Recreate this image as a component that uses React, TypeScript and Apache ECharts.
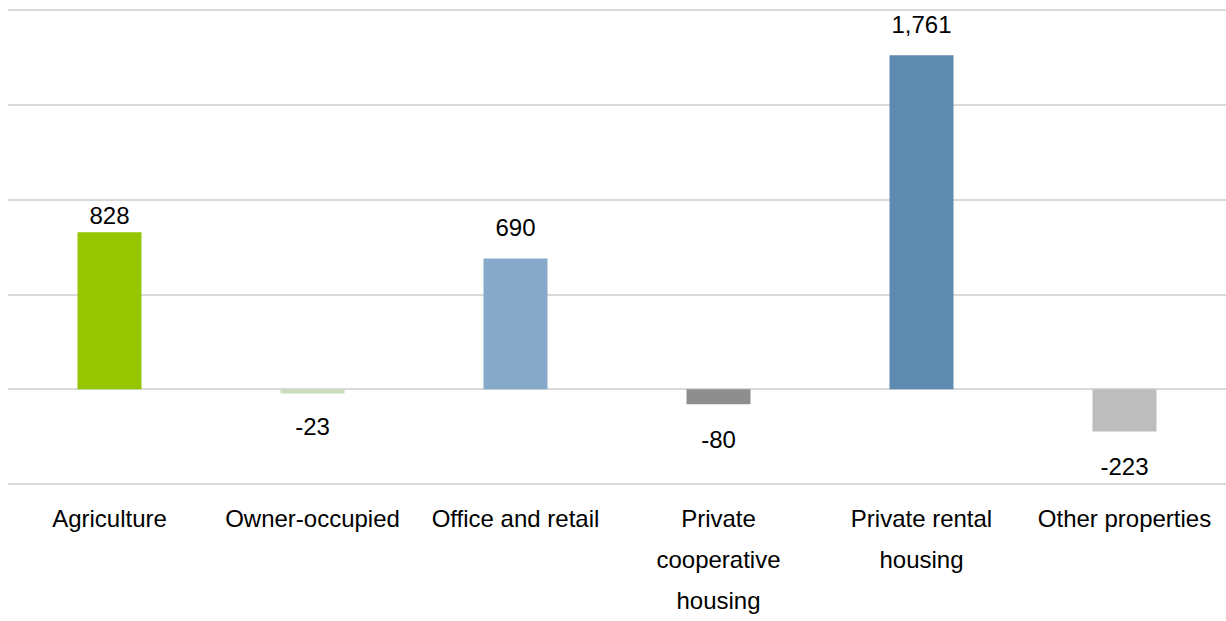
import React, { useEffect, useRef } from "react";
import * as echarts from "echarts";

const categories = [
  "Agriculture",
  "Owner-occupied",
  "Office and retail",
  "Private\ncooperative\nhousing",
  "Private rental\nhousing",
  "Other properties",
];
const values = [828, -23, 690, -80, 1761, -223];
const barColors = ["#95C600", "#C9DDBA", "#87A9C9", "#8E8E8E", "#5F8AB0", "#BDBDBD"];
const labelTexts = ["828", "-23", "690", "-80", "1,761", "-223"];
const labelDistances = [5, 21, 19, 23, 19, 23];

export default function App() {
  const ref = useRef<HTMLDivElement>(null);
  useEffect(() => {
    if (!ref.current) return;
    const chart = echarts.init(ref.current, null, { renderer: "svg" });
    chart.setOption({
      animation: false,
      backgroundColor: "#ffffff",
      grid: { left: 8, right: 0, top: 10, bottom: 131, containLabel: false },
      xAxis: {
        type: "category",
        data: categories,
        axisLine: { show: false },
        axisTick: { show: false },
        axisLabel: {
          interval: 0,
          color: "#000000",
          fontSize: 24,
          fontFamily: "Liberation Sans, Arial, sans-serif",
          lineHeight: 41,
          margin: 14,
        },
      },
      yAxis: {
        type: "value",
        min: -500,
        max: 2000,
        interval: 500,
        axisLabel: { show: false },
        axisLine: { show: false },
        axisTick: { show: false },
        splitLine: { lineStyle: { color: "#D9D9D9", width: 2 } },
      },
      series: [
        {
          type: "bar",
          barWidth: 64,
          data: values.map((v, i) => ({
            value: v,
            itemStyle: { color: barColors[i] },
            label: {
              show: true,
              position: v >= 0 ? "top" : "bottom",
              distance: labelDistances[i],
              formatter: labelTexts[i],
              color: "#000000",
              fontSize: 24,
              fontFamily: "Liberation Sans, Arial, sans-serif",
            },
          })),
        },
      ],
    });
    return () => chart.dispose();
  }, []);
  return (
    <div
      ref={ref}
      style={{ position: "fixed", left: 0, top: 0, width: 1226, height: 621 }}
    />
  );
}
